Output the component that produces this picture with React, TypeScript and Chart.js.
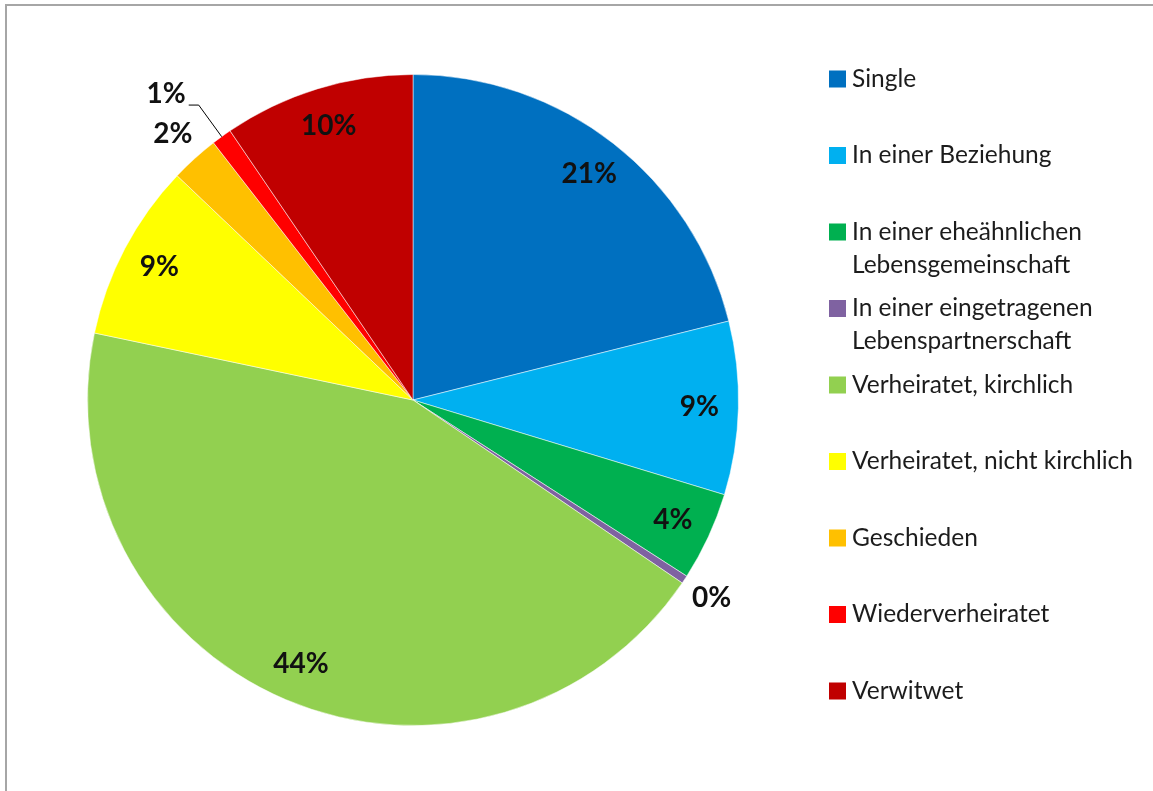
import React, { useEffect, useRef } from "react";
import { Chart, registerables } from "chart.js";

Chart.register(...registerables);

const categories: string[] = [
  "Single",
  "In einer Beziehung",
  "In einer eheähnlichen Lebensgemeinschaft",
  "In einer eingetragenen Lebenspartnerschaft",
  "Verheiratet, kirchlich",
  "Verheiratet, nicht kirchlich",
  "Geschieden",
  "Wiederverheiratet",
  "Verwitwet",
];

const shares: number[] = [21.1, 8.6, 4.4, 0.4, 43.8, 8.8, 2.4, 1.0, 9.5];

const colors: string[] = [
  "#0070C0",
  "#00B0F0",
  "#00B050",
  "#7F62A1",
  "#92D050",
  "#FFFF00",
  "#FFC000",
  "#FF0000",
  "#C00000",
];

// label placement style per slice: "in" = inside, "out" = outside, "leader" = outside with leader line
const labelModes: string[] = ["in", "in", "in", "out", "in", "in", "out", "leader", "in"];

const FONT = "Lato, 'Open Sans', sans-serif";

const framePlugin = {
  id: "frame",
  beforeDraw(chart: any) {
    const ctx = chart.ctx;
    ctx.save();
    ctx.strokeStyle = "#a6a6a6";
    ctx.lineWidth = 2;
    ctx.beginPath();
    ctx.moveTo(6, chart.height + 5);
    ctx.lineTo(6, 5);
    ctx.lineTo(chart.width + 5, 5);
    ctx.stroke();
    ctx.restore();
  },
};

const pieLabelPlugin = {
  id: "pieLabels",
  afterDatasetsDraw(chart: any) {
    const ctx = chart.ctx;
    const meta = chart.getDatasetMeta(0);
    const data = chart.data.datasets[0].data as number[];
    const total = data.reduce((a, b) => a + b, 0);
    ctx.save();
    ctx.font = `bold 28px ${FONT}`;
    ctx.fillStyle = "#111";
    ctx.textAlign = "center";
    ctx.textBaseline = "middle";
    meta.data.forEach((arc: any, i: number) => {
      const p = arc.getProps(["x", "y", "startAngle", "endAngle", "outerRadius"], true);
      const mid = (p.startAngle + p.endAngle) / 2;
      const text = Math.round((data[i] / total) * 100) + "%";
      const mode = labelModes[i];
      const cos = Math.cos(mid);
      const sin = Math.sin(mid);
      if (mode === "in") {
        const r = p.outerRadius * 0.88;
        ctx.fillText(text, p.x + cos * r, p.y + sin * r);
      } else if (mode === "out") {
        const r = p.outerRadius * 1.1;
        ctx.fillText(text, p.x + cos * r, p.y + sin * r);
      } else {
        const ex = p.x + cos * p.outerRadius;
        const ey = p.y + sin * p.outerRadius;
        const r2 = p.outerRadius * 1.12;
        const bx = p.x + cos * r2;
        const by = p.y + sin * r2;
        const dir = cos < 0 ? -1 : 1;
        ctx.save();
        ctx.strokeStyle = "#000";
        ctx.lineWidth = 1;
        ctx.beginPath();
        ctx.moveTo(ex, ey);
        ctx.lineTo(bx, by);
        ctx.lineTo(bx + dir * 10, by);
        ctx.stroke();
        ctx.restore();
        ctx.textAlign = dir < 0 ? "right" : "left";
        ctx.fillText(text, bx + dir * 13, by - 11);
        ctx.textAlign = "center";
      }
    });
    ctx.restore();
  },
};

const legendPlugin = {
  id: "sideLegend",
  afterDraw(chart: any) {
    const ctx = chart.ctx;
    const labels = chart.data.labels as string[];
    const bg = chart.data.datasets[0].backgroundColor as string[];
    const boxX = 829;
    const textX = 852;
    const firstY = 79;
    const step = 76.5;
    const lineH = 33;
    const maxW = chart.width - textX - 8;
    ctx.save();
    ctx.font = `24.5px ${FONT}`;
    ctx.textAlign = "left";
    ctx.textBaseline = "middle";
    labels.forEach((label, i) => {
      const y = firstY + i * step;
      ctx.fillStyle = bg[i];
      ctx.fillRect(boxX, y - 8.5, 17, 17);
      const words = label.split(" ");
      const lines: string[] = [];
      let cur = "";
      words.forEach((w) => {
        const test = cur ? cur + " " + w : w;
        if (ctx.measureText(test).width > maxW && cur) {
          lines.push(cur);
          cur = w;
        } else cur = test;
      });
      if (cur) lines.push(cur);
      ctx.fillStyle = "#1c1c1c";
      lines.forEach((ln, k) => ctx.fillText(ln, textX, y + k * lineH));
    });
    ctx.restore();
  },
};

export default function App() {
  const ref = useRef<HTMLCanvasElement | null>(null);
  useEffect(() => {
    if (!ref.current) return;
    const chart = new Chart(ref.current, {
      type: "pie",
      data: {
        labels: categories,
        datasets: [
          {
            data: shares,
            backgroundColor: colors,
            borderColor: "rgba(255,255,255,0.5)",
            borderWidth: 1,
          },
        ],
      },
      options: {
        responsive: false,
        animation: false,
        layout: { padding: { left: 87, top: 74, right: 414, bottom: 65 } },
        plugins: {
          legend: { display: false },
          tooltip: { enabled: false },
        },
      },
      plugins: [framePlugin, pieLabelPlugin, legendPlugin],
    });
    return () => chart.destroy();
  }, []);
  return (
    <div style={{ position: "absolute", left: 0, top: 0, width: 1153, height: 791, background: "#fff" }}>
      <canvas ref={ref} width={1153} height={791} />
    </div>
  );
}
